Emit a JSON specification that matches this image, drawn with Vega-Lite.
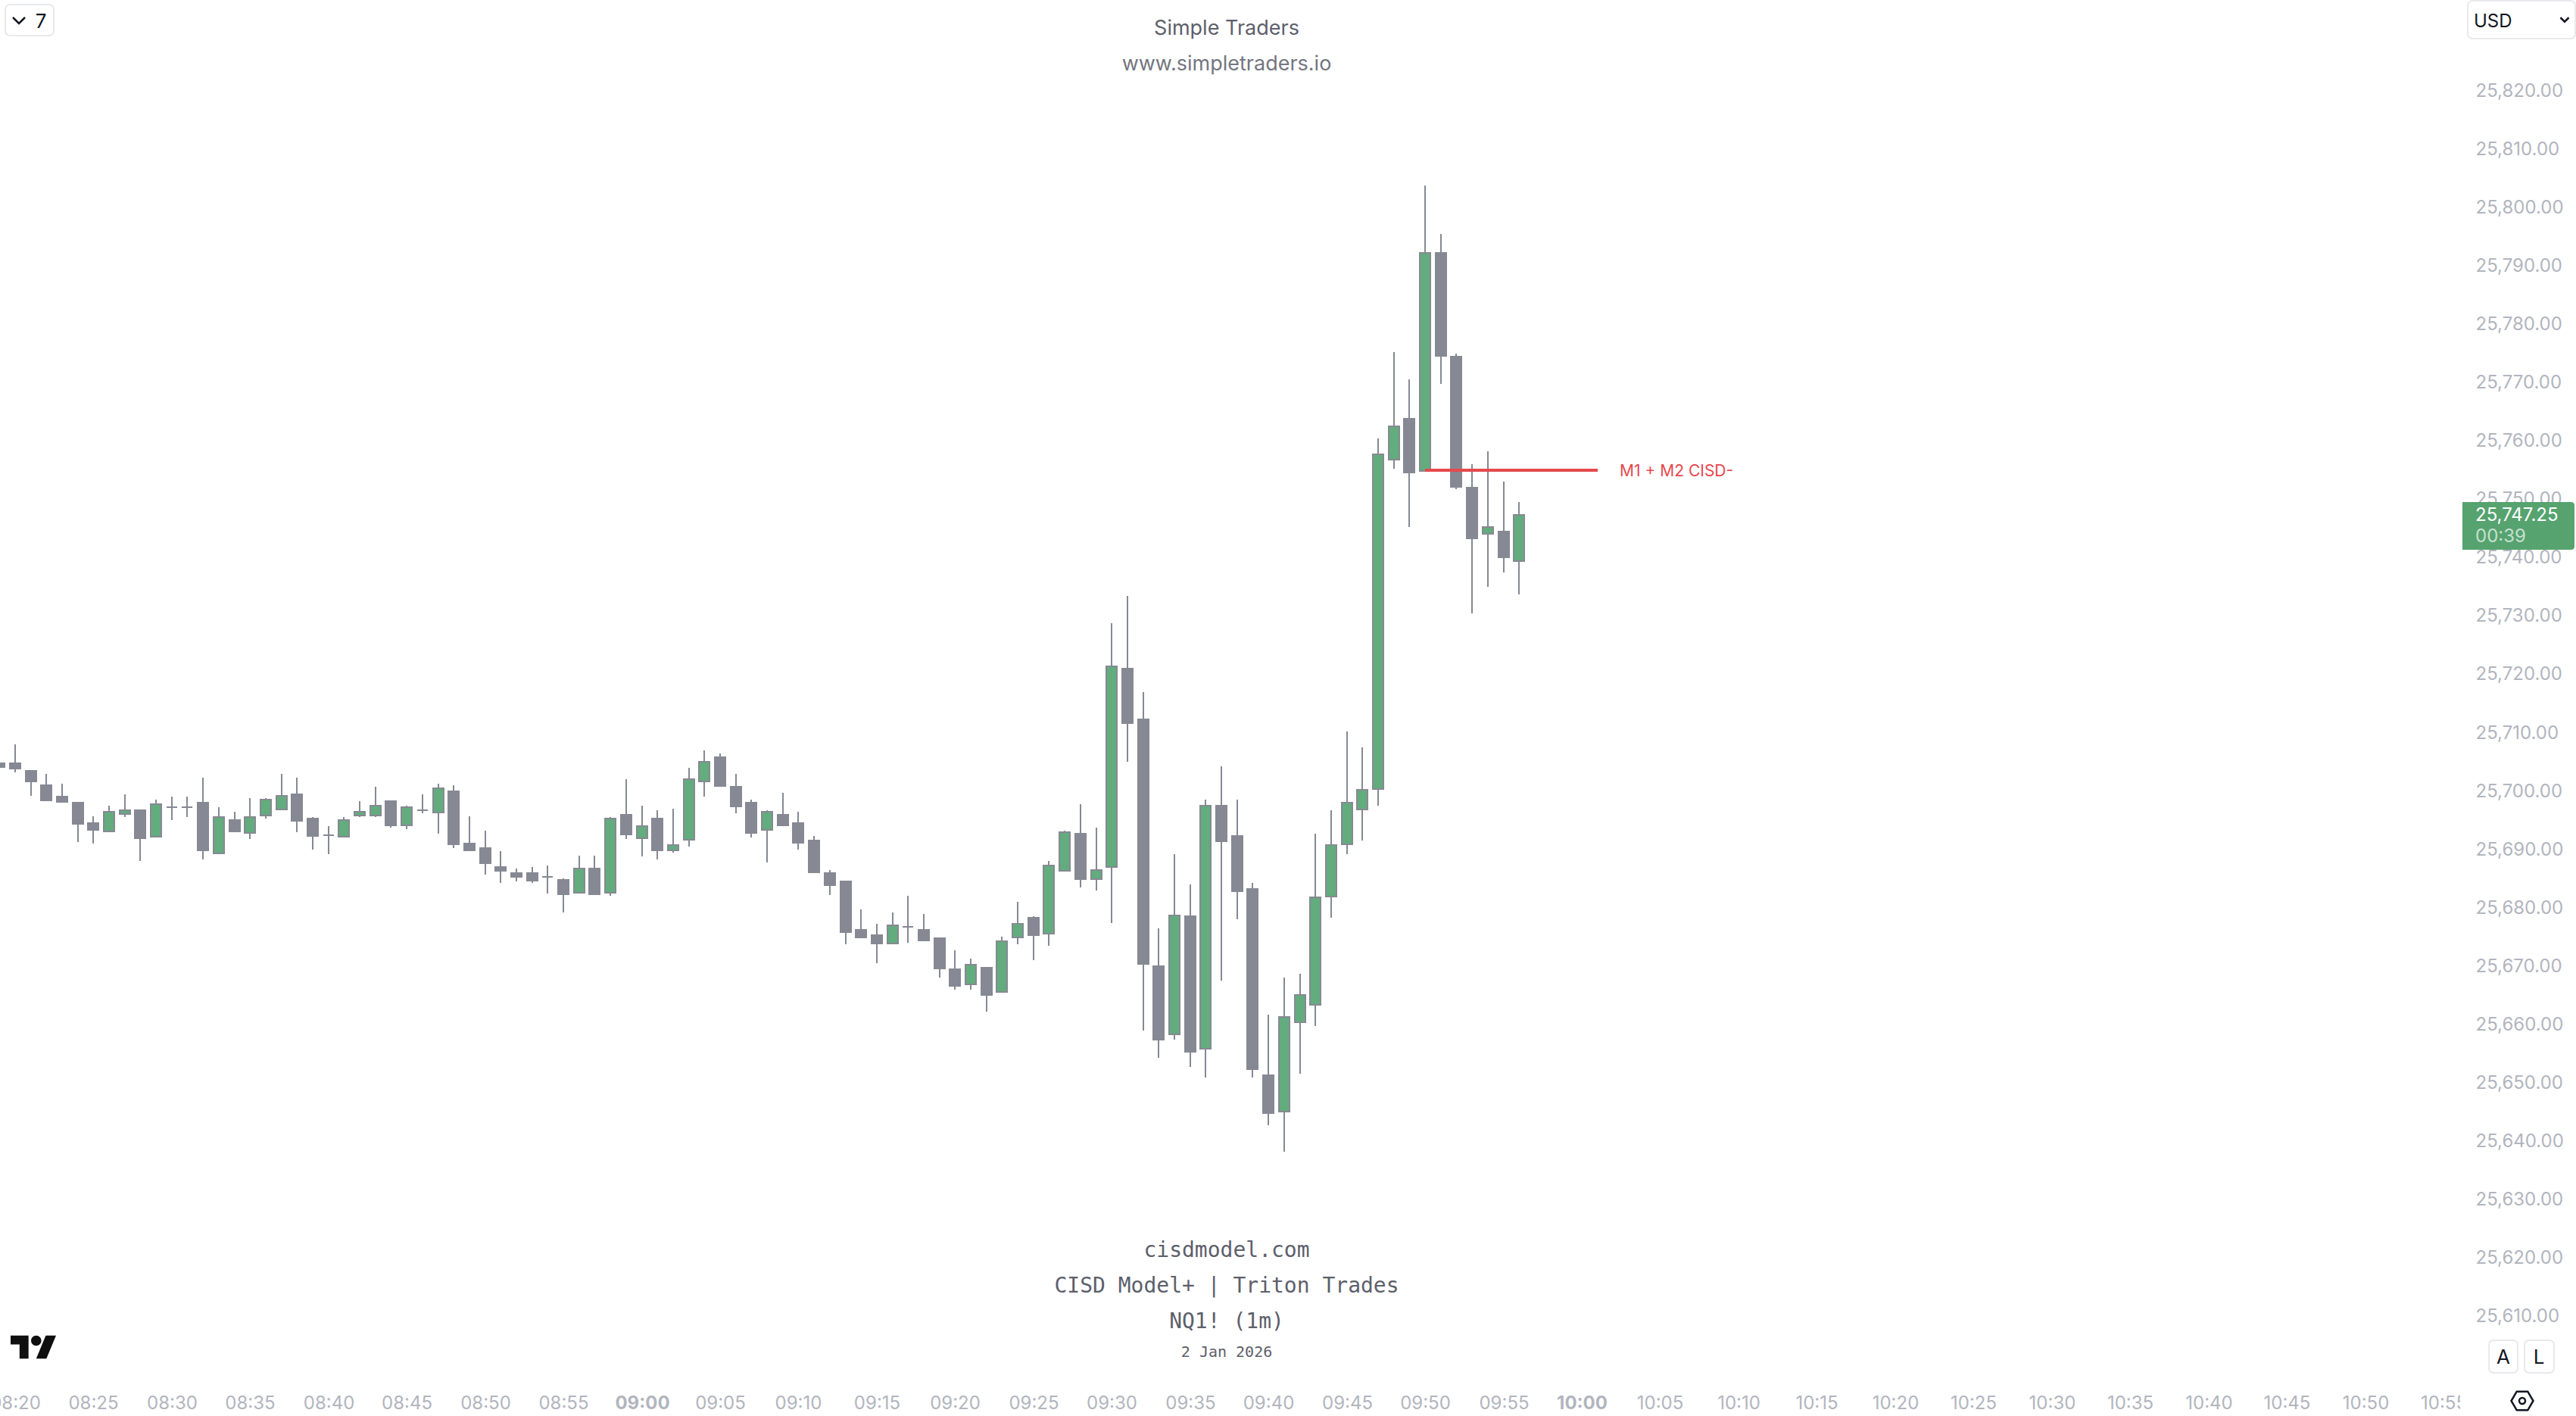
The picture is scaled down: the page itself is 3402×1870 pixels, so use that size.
{
"$schema":"https://vega.github.io/schema/vega-lite/v6.json",
"width":3402,"height":1870,"padding":0,"autosize":{"type":"none"},"background":"#ffffff",
"config":{"view":{"stroke":null},"text":{"font":"Inter"}},
"datasets":{"candles":[
{"t":"2026-01-02T08:19:00","high":25704.49,"open":25704.49,"close":25703.89,"low":25703.89},
{"t":"2026-01-02T08:20:00","high":25707.74,"open":25704.49,"close":25703.58,"low":25702.94},
{"t":"2026-01-02T08:21:00","high":25703.19,"open":25703.19,"close":25701.38,"low":25698.91},
{"t":"2026-01-02T08:22:00","high":25702.68,"open":25700.73,"close":25698.13,"low":25698.13},
{"t":"2026-01-02T08:23:00","high":25700.99,"open":25698.78,"close":25697.87,"low":25697.74},
{"t":"2026-01-02T08:24:00","high":25697.74,"open":25697.74,"close":25694.11,"low":25691.0},
{"t":"2026-01-02T08:25:00","high":25695.41,"open":25694.24,"close":25693.07,"low":25690.74},
{"t":"2026-01-02T08:26:00","high":25697.22,"open":25692.81,"close":25696.19,"low":25692.81},
{"t":"2026-01-02T08:27:00","high":25699.17,"open":25695.8,"close":25696.45,"low":25695.28},
{"t":"2026-01-02T08:28:00","high":25696.45,"open":25696.45,"close":25691.64,"low":25687.75},
{"t":"2026-01-02T08:29:00","high":25698.26,"open":25691.9,"close":25697.48,"low":25691.9},
{"t":"2026-01-02T08:30:00","high":25698.78,"open":25696.97,"close":25696.97,"low":25694.76},
{"t":"2026-01-02T08:31:00","high":25698.78,"open":25696.97,"close":25696.97,"low":25695.28},
{"t":"2026-01-02T08:32:00","high":25702.03,"open":25697.74,"close":25689.57,"low":25688.01},
{"t":"2026-01-02T08:33:00","high":25696.97,"open":25689.05,"close":25695.28,"low":25689.05},
{"t":"2026-01-02T08:34:00","high":25696.19,"open":25694.76,"close":25692.81,"low":25692.81},
{"t":"2026-01-02T08:35:00","high":25698.52,"open":25692.55,"close":25695.28,"low":25691.51},
{"t":"2026-01-02T08:36:00","high":25698.52,"open":25695.54,"close":25698.26,"low":25695.02},
{"t":"2026-01-02T08:37:00","high":25702.68,"open":25696.58,"close":25698.91,"low":25696.58},
{"t":"2026-01-02T08:38:00","high":25702.03,"open":25699.17,"close":25694.63,"low":25692.68},
{"t":"2026-01-02T08:39:00","high":25695.28,"open":25695.02,"close":25692.03,"low":25689.7},
{"t":"2026-01-02T08:40:00","high":25693.72,"open":25692.16,"close":25692.16,"low":25688.92},
{"t":"2026-01-02T08:41:00","high":25695.28,"open":25691.9,"close":25694.76,"low":25691.9},
{"t":"2026-01-02T08:42:00","high":25698.0,"open":25695.54,"close":25696.19,"low":25695.28},
{"t":"2026-01-02T08:43:00","high":25700.47,"open":25695.54,"close":25697.22,"low":25695.28},
{"t":"2026-01-02T08:44:00","high":25698.0,"open":25698.0,"close":25693.85,"low":25693.46},
{"t":"2026-01-02T08:45:00","high":25697.22,"open":25693.85,"close":25696.97,"low":25693.2},
{"t":"2026-01-02T08:46:00","high":25699.17,"open":25696.45,"close":25696.45,"low":25695.93},
{"t":"2026-01-02T08:47:00","high":25700.99,"open":25696.06,"close":25700.21,"low":25692.42},
{"t":"2026-01-02T08:48:00","high":25700.73,"open":25699.69,"close":25690.61,"low":25689.96},
{"t":"2026-01-02T08:49:00","high":25695.41,"open":25690.74,"close":25689.57,"low":25689.57},
{"t":"2026-01-02T08:50:00","high":25692.94,"open":25689.96,"close":25687.36,"low":25685.42},
{"t":"2026-01-02T08:51:00","high":25689.44,"open":25686.71,"close":25686.06,"low":25683.99},
{"t":"2026-01-02T08:52:00","high":25686.45,"open":25685.67,"close":25685.03,"low":25684.25},
{"t":"2026-01-02T08:53:00","high":25686.71,"open":25685.67,"close":25684.38,"low":25683.99},
{"t":"2026-01-02T08:54:00","high":25686.97,"open":25685.03,"close":25685.03,"low":25682.17},
{"t":"2026-01-02T08:55:00","high":25684.77,"open":25684.5,"close":25682.04,"low":25678.92},
{"t":"2026-01-02T08:56:00","high":25688.66,"open":25682.3,"close":25686.45,"low":25682.3},
{"t":"2026-01-02T08:57:00","high":25688.66,"open":25686.45,"close":25682.04,"low":25681.91},
{"t":"2026-01-02T08:58:00","high":25695.28,"open":25682.3,"close":25695.02,"low":25681.78},
{"t":"2026-01-02T08:59:00","high":25701.77,"open":25695.67,"close":25692.29,"low":25691.51},
{"t":"2026-01-02T09:00:00","high":25697.22,"open":25691.64,"close":25693.72,"low":25688.53},
{"t":"2026-01-02T09:01:00","high":25696.45,"open":25695.02,"close":25689.57,"low":25688.01},
{"t":"2026-01-02T09:02:00","high":25696.71,"open":25689.57,"close":25690.48,"low":25689.18},
{"t":"2026-01-02T09:03:00","high":25703.71,"open":25691.38,"close":25701.77,"low":25690.22},
{"t":"2026-01-02T09:04:00","high":25706.7,"open":25701.38,"close":25704.75,"low":25698.78},
{"t":"2026-01-02T09:05:00","high":25706.18,"open":25705.53,"close":25700.6,"low":25700.6},
{"t":"2026-01-02T09:06:00","high":25702.68,"open":25700.47,"close":25697.1,"low":25695.93},
{"t":"2026-01-02T09:07:00","high":25698.26,"open":25697.74,"close":25692.55,"low":25691.77},
{"t":"2026-01-02T09:08:00","high":25696.45,"open":25693.07,"close":25696.19,"low":25687.49},
{"t":"2026-01-02T09:09:00","high":25699.43,"open":25695.67,"close":25693.85,"low":25693.72},
{"t":"2026-01-02T09:10:00","high":25696.19,"open":25694.24,"close":25690.87,"low":25689.7},
{"t":"2026-01-02T09:11:00","high":25692.03,"open":25691.26,"close":25685.8,"low":25685.8},
{"t":"2026-01-02T09:12:00","high":25686.19,"open":25685.67,"close":25683.6,"low":25681.91},
{"t":"2026-01-02T09:13:00","high":25684.25,"open":25684.25,"close":25675.55,"low":25673.48},
{"t":"2026-01-02T09:14:00","high":25679.44,"open":25675.94,"close":25674.64,"low":25674.64},
{"t":"2026-01-02T09:15:00","high":25676.98,"open":25675.03,"close":25673.6,"low":25670.23},
{"t":"2026-01-02T09:16:00","high":25678.93,"open":25673.6,"close":25676.72,"low":25673.48},
{"t":"2026-01-02T09:17:00","high":25681.78,"open":25676.46,"close":25676.46,"low":25673.73},
{"t":"2026-01-02T09:18:00","high":25678.67,"open":25675.94,"close":25674.12,"low":25673.99},
{"t":"2026-01-02T09:19:00","high":25674.51,"open":25674.51,"close":25669.32,"low":25667.77},
{"t":"2026-01-02T09:20:00","high":25672.44,"open":25669.19,"close":25666.34,"low":25665.69},
{"t":"2026-01-02T09:21:00","high":25671.01,"open":25666.6,"close":25669.97,"low":25665.69},
{"t":"2026-01-02T09:22:00","high":25669.45,"open":25669.45,"close":25664.78,"low":25661.92},
{"t":"2026-01-02T09:23:00","high":25674.77,"open":25665.3,"close":25673.99,"low":25665.3},
{"t":"2026-01-02T09:24:00","high":25680.74,"open":25674.64,"close":25676.98,"low":25673.48},
{"t":"2026-01-02T09:25:00","high":25678.28,"open":25678.02,"close":25675.03,"low":25670.75},
{"t":"2026-01-02T09:26:00","high":25687.75,"open":25675.29,"close":25686.97,"low":25673.22},
{"t":"2026-01-02T09:27:00","high":25692.94,"open":25686.06,"close":25692.68,"low":25685.93},
{"t":"2026-01-02T09:28:00","high":25697.48,"open":25692.42,"close":25684.64,"low":25683.21},
{"t":"2026-01-02T09:29:00","high":25693.46,"open":25684.64,"close":25686.19,"low":25682.69},
{"t":"2026-01-02T09:30:00","high":25728.51,"open":25686.65,"close":25721.16,"low":25677.05},
{"t":"2026-01-02T09:31:00","high":25733.15,"open":25720.69,"close":25711.36,"low":25704.8},
{"t":"2026-01-02T09:32:00","high":25716.72,"open":25712.02,"close":25670.1,"low":25658.7},
{"t":"2026-01-02T09:33:00","high":25676.19,"open":25669.7,"close":25657.11,"low":25654.0},
{"t":"2026-01-02T09:34:00","high":25688.9,"open":25658.04,"close":25678.37,"low":25657.05},
{"t":"2026-01-02T09:35:00","high":25683.74,"open":25678.24,"close":25655.06,"low":25652.41},
{"t":"2026-01-02T09:36:00","high":25698.24,"open":25655.52,"close":25697.25,"low":25650.56},
{"t":"2026-01-02T09:37:00","high":25703.94,"open":25697.25,"close":25691.09,"low":25667.25},
{"t":"2026-01-02T09:38:00","high":25698.24,"open":25692.02,"close":25682.55,"low":25677.78},
{"t":"2026-01-02T09:39:00","high":25684.0,"open":25682.94,"close":25652.01,"low":25650.56},
{"t":"2026-01-02T09:40:00","high":25661.42,"open":25651.02,"close":25644.53,"low":25642.41},
{"t":"2026-01-02T09:41:00","high":25667.78,"open":25644.79,"close":25661.02,"low":25637.97},
{"t":"2026-01-02T09:42:00","high":25668.37,"open":25660.16,"close":25664.8,"low":25651.22},
{"t":"2026-01-02T09:43:00","high":25692.41,"open":25663.08,"close":25681.49,"low":25659.43},
{"t":"2026-01-02T09:44:00","high":25696.45,"open":25681.62,"close":25690.49,"low":25677.98},
{"t":"2026-01-02T09:45:00","high":25709.96,"open":25690.63,"close":25697.71,"low":25688.9},
{"t":"2026-01-02T09:46:00","high":25707.18,"open":25696.59,"close":25699.96,"low":25691.22},
{"t":"2026-01-02T09:47:00","high":25760.15,"open":25700.1,"close":25757.45,"low":25697.25},
{"t":"2026-01-02T09:48:00","high":25774.98,"open":25756.54,"close":25762.27,"low":25754.96},
{"t":"2026-01-02T09:49:00","high":25770.32,"open":25763.54,"close":25754.32,"low":25745.0},
{"t":"2026-01-02T09:50:00","high":25803.53,"open":25754.58,"close":25791.98,"low":25754.58},
{"t":"2026-01-02T09:51:00","high":25795.21,"open":25791.98,"close":25774.34,"low":25769.52},
{"t":"2026-01-02T09:52:00","high":25774.71,"open":25774.18,"close":25751.88,"low":25751.46},
{"t":"2026-01-02T09:53:00","high":25755.75,"open":25751.72,"close":25743.04,"low":25730.22},
{"t":"2026-01-02T09:54:00","high":25757.97,"open":25743.83,"close":25745.0,"low":25734.72},
{"t":"2026-01-02T09:55:00","high":25752.78,"open":25744.2,"close":25739.81,"low":25737.21},
{"t":"2026-01-02T09:56:00","high":25749.29,"open":25739.17,"close":25747.0,"low":25733.45}
]},
"layer":[
{"data":{"values":[{"t":"2026-01-02T10:56:04","t2":"2026-01-02T11:03:27","p":25598.46,"p2":25592.7}]},
 "mark":{"type":"rect","fill":"#ffffff"},
 "encoding":{
  "x":{"field":"t","type":"temporal","title":null,
   "scale":{"domain":[{"year":2026,"month":1,"date":2,"hours":8,"minutes":19,"seconds":2,"milliseconds":300},{"year":2026,"month":1,"date":2,"hours":11,"minutes":3,"seconds":27,"milliseconds":600}],"nice":false,"padding":0,"round":true},
   "axis":{"orient":"bottom","offset":-17,"domain":false,"ticks":false,"grid":false,"title":null,"format":"%H:%M",
    "values":[{"year":2026,"month":1,"date":2,"hours":8,"minutes":20},{"year":2026,"month":1,"date":2,"hours":8,"minutes":25},{"year":2026,"month":1,"date":2,"hours":8,"minutes":30},{"year":2026,"month":1,"date":2,"hours":8,"minutes":35},{"year":2026,"month":1,"date":2,"hours":8,"minutes":40},{"year":2026,"month":1,"date":2,"hours":8,"minutes":45},{"year":2026,"month":1,"date":2,"hours":8,"minutes":50},{"year":2026,"month":1,"date":2,"hours":8,"minutes":55},
    {"year":2026,"month":1,"date":2,"hours":9,"minutes":0},{"year":2026,"month":1,"date":2,"hours":9,"minutes":5},{"year":2026,"month":1,"date":2,"hours":9,"minutes":10},{"year":2026,"month":1,"date":2,"hours":9,"minutes":15},{"year":2026,"month":1,"date":2,"hours":9,"minutes":20},{"year":2026,"month":1,"date":2,"hours":9,"minutes":25},{"year":2026,"month":1,"date":2,"hours":9,"minutes":30},{"year":2026,"month":1,"date":2,"hours":9,"minutes":35},{"year":2026,"month":1,"date":2,"hours":9,"minutes":40},{"year":2026,"month":1,"date":2,"hours":9,"minutes":45},{"year":2026,"month":1,"date":2,"hours":9,"minutes":50},{"year":2026,"month":1,"date":2,"hours":9,"minutes":55},
    {"year":2026,"month":1,"date":2,"hours":10,"minutes":0},{"year":2026,"month":1,"date":2,"hours":10,"minutes":5},{"year":2026,"month":1,"date":2,"hours":10,"minutes":10},{"year":2026,"month":1,"date":2,"hours":10,"minutes":15},{"year":2026,"month":1,"date":2,"hours":10,"minutes":20},{"year":2026,"month":1,"date":2,"hours":10,"minutes":25},{"year":2026,"month":1,"date":2,"hours":10,"minutes":30},{"year":2026,"month":1,"date":2,"hours":10,"minutes":35},{"year":2026,"month":1,"date":2,"hours":10,"minutes":40},{"year":2026,"month":1,"date":2,"hours":10,"minutes":45},{"year":2026,"month":1,"date":2,"hours":10,"minutes":50},{"year":2026,"month":1,"date":2,"hours":10,"minutes":55}],
    "labelPadding":0,"labelBaseline":"middle","labelFont":"Inter","labelFontSize":24,"labelColor":"#b2b5be","labelOverlap":false,"labelFlush":false,"labelBound":false,"labelFontWeight":{"condition":{"test":"minutes(datum.value)==0","value":"bold"},"value":"normal"}}},
  "x2":{"field":"t2"},
  "y":{"field":"p","type":"quantitative","title":null,
   "scale":{"domain":[25592.61,25835.31],"nice":false,"zero":false,"round":true},
   "axis":{"orient":"right","offset":-133,"domain":false,"ticks":false,"grid":false,"title":null,"format":",.2f","values":[25610,25620,25630,25640,25650,25660,25670,25680,25690,25700,25710,25720,25730,25740,25750,25760,25770,25780,25790,25800,25810,25820],"labelPadding":0,"labelOffset":2,"labelAlign":"left","labelBaseline":"middle","labelFont":"Inter","labelFontSize":24,"labelColor":"#b2b5be","labelOverlap":false,"labelBound":false,"labelFlush":false}},
  "y2":{"field":"p2"}}},
{"data":{"name":"candles"},"mark":{"type":"rule","color":"#868993","strokeWidth":2},
 "encoding":{"x":{"field":"t","type":"temporal","title":null},"y":{"field":"low","type":"quantitative","title":null},"y2":{"field":"high"}}},
{"data":{"name":"candles"},"mark":{"type":"bar","size":14,"stroke":"#868993","strokeWidth":2},
 "encoding":{"x":{"field":"t","type":"temporal","title":null},"y":{"field":"open","type":"quantitative","title":null},"y2":{"field":"close"},
  "fill":{"condition":{"test":"datum.close>datum.open","value":"#63ac7d"},"value":"#868993"}}},
{"data":{"values":[{"t":"2026-01-02T09:50:00","t2":"2026-01-02T10:01:00","p":25754.72}]},"mark":{"type":"rule","color":"#e5484d","strokeWidth":4},
 "encoding":{"x":{"field":"t","type":"temporal","title":null},"x2":{"field":"t2"},"y":{"field":"p","type":"quantitative","title":null}}},
{"data":{"values":[{"t":"2026-01-02T10:02:24","p":25754.42,"label":"M1 + M2 CISD-"}]},"mark":{"type":"text","align":"left","baseline":"middle","font":"Inter","fontSize":21,"color":"#e5484d"},
 "encoding":{"x":{"field":"t","type":"temporal","title":null},"y":{"field":"p","type":"quantitative","title":null},"text":{"field":"label"}}},
{"data":{"values":[{"t":"2026-01-02T10:56:13","t2":"2026-01-02T11:03:22","p":25749.27,"p2":25741.09}]},"mark":{"type":"rect","fill":"#56a36f","cornerRadiusTopRight":4,"cornerRadiusBottomRight":4},
 "encoding":{"x":{"field":"t","type":"temporal","title":null},"x2":{"field":"t2"},"y":{"field":"p","type":"quantitative","title":null},"y2":{"field":"p2"}}},
{"data":{"values":[{"t":"2026-01-02T10:57:02","p":25746.91,"label":"25,747.25"}]},"mark":{"type":"text","align":"left","baseline":"middle","font":"Inter","fontSize":24,"color":"#ffffff"},
 "encoding":{"x":{"field":"t","type":"temporal","title":null},"y":{"field":"p","type":"quantitative","title":null},"text":{"field":"label"}}},
{"data":{"values":[{"t":"2026-01-02T10:57:02","p":25743.28,"label":"00:39"}]},"mark":{"type":"text","align":"left","baseline":"middle","font":"Inter","fontSize":24,"color":"#c6e0cf"},
 "encoding":{"x":{"field":"t","type":"temporal","title":null},"y":{"field":"p","type":"quantitative","title":null},"text":{"field":"label"}}},
{"data":{"values":[{"t":"2026-01-02T09:37:20","p":25830.4,"label":"Simple Traders"}]},"mark":{"type":"text","align":"center","baseline":"middle","font":"Inter","fontSize":27,"color":"#5d606b"},
 "encoding":{"x":{"field":"t","type":"temporal","title":null},"y":{"field":"p","type":"quantitative","title":null},"text":{"field":"label"}}},
{"data":{"values":[{"t":"2026-01-02T09:37:20","p":25824.3,"label":"www.simpletraders.io"}]},"mark":{"type":"text","align":"center","baseline":"middle","font":"Inter","fontSize":27,"color":"#73767f"},
 "encoding":{"x":{"field":"t","type":"temporal","title":null},"y":{"field":"p","type":"quantitative","title":null},"text":{"field":"label"}}},
{"data":{"values":[{"t":"2026-01-02T09:37:20","p":25620.87,"label":"cisdmodel.com"},{"t":"2026-01-02T09:37:20","p":25614.85,"label":"CISD Model+ | Triton Trades"},{"t":"2026-01-02T09:37:20","p":25608.75,"label":"NQ1! (1m)"}]},"mark":{"type":"text","align":"center","baseline":"middle","font":"DejaVu Sans Mono","fontSize":28,"color":"#5d606b"},
 "encoding":{"x":{"field":"t","type":"temporal","title":null},"y":{"field":"p","type":"quantitative","title":null},"text":{"field":"label"}}},
{"data":{"values":[{"t":"2026-01-02T09:37:20","p":25603.55,"label":"2 Jan 2026"}]},"mark":{"type":"text","align":"center","baseline":"middle","font":"DejaVu Sans Mono","fontSize":20,"color":"#5d606b"},
 "encoding":{"x":{"field":"t","type":"temporal","title":null},"y":{"field":"p","type":"quantitative","title":null},"text":{"field":"label"}}},
{"data":{"values":[{"t":"2026-01-02T08:19:23","t2":"2026-01-02T08:22:28","p":25834.54,"p2":25829.21},{"t":"2026-01-02T10:56:33","t2":"2026-01-02T11:03:25","p":25835.18,"p2":25828.7},{"t":"2026-01-02T10:57:55","t2":"2026-01-02T10:59:45","p":25605.59,"p2":25600.01},{"t":"2026-01-02T11:00:11","t2":"2026-01-02T11:02:04","p":25605.59,"p2":25600.01}]},"mark":{"type":"rect","fill":"#ffffff","stroke":"#e8e9ec","strokeWidth":2,"cornerRadius":6},
 "encoding":{"x":{"field":"t","type":"temporal","title":null},"x2":{"field":"t2"},"y":{"field":"p","type":"quantitative","title":null},"y2":{"field":"p2"}}},
{"data":{"values":[{"t":"2026-01-02T08:21:39","p":25831.6,"label":"7"},{"t":"2026-01-02T10:58:50","p":25602.6,"label":"A"},{"t":"2026-01-02T11:01:06","p":25602.6,"label":"L"}]},"mark":{"type":"text","align":"center","baseline":"middle","font":"Inter","fontSize":26,"color":"#131722"},
 "encoding":{"x":{"field":"t","type":"temporal","title":null},"y":{"field":"p","type":"quantitative","title":null},"text":{"field":"label"}}},
{"data":{"values":[{"t":"2026-01-02T10:56:56","p":25831.6,"label":"USD"}]},"mark":{"type":"text","align":"left","baseline":"middle","font":"Inter","fontSize":24,"color":"#131722"},
 "encoding":{"x":{"field":"t","type":"temporal","title":null},"y":{"field":"p","type":"quantitative","title":null},"text":{"field":"label"}}},
{"data":{"values":[{"t":"2026-01-02T08:20:15","p":25831.81}]},"mark":{"type":"point","shape":"M-1 -0.5L0 0.5L1 -0.5","size":256,"filled":false,"stroke":"#131722","strokeWidth":2.5,"opacity":1},
 "encoding":{"x":{"field":"t","type":"temporal","title":null},"y":{"field":"p","type":"quantitative","title":null}}},
{"data":{"values":[{"t":"2026-01-02T11:02:44","p":25831.94}]},"mark":{"type":"point","shape":"M-1 -0.5L0 0.5L1 -0.5","size":121,"filled":false,"stroke":"#131722","strokeWidth":2.5,"opacity":1},
 "encoding":{"x":{"field":"t","type":"temporal","title":null},"y":{"field":"p","type":"quantitative","title":null}}},
{"data":{"values":[{"t":"2026-01-02T11:00:02","p":25595.21}]},"mark":{"type":"point","shape":"M-1 0L-0.5 -0.85L0.5 -0.85L1 0L0.5 0.85L-0.5 0.85Z","size":841,"filled":false,"stroke":"#131722","strokeWidth":2.5,"opacity":1},
 "encoding":{"x":{"field":"t","type":"temporal","title":null},"y":{"field":"p","type":"quantitative","title":null}}},
{"data":{"values":[{"t":"2026-01-02T11:00:02","p":25595.21}]},"mark":{"type":"point","shape":"circle","size":64,"filled":false,"stroke":"#131722","strokeWidth":2.5,"opacity":1},
 "encoding":{"x":{"field":"t","type":"temporal","title":null},"y":{"field":"p","type":"quantitative","title":null}}},
{"data":{"values":[{"t":"2026-01-02T08:21:10","p":25604.43}]},"mark":{"type":"point","shape":"M-0.211 0.507L-0.606 0.507L-0.606 -0.113L-1 -0.113L-1 -0.507L-0.211 -0.507ZM0.577 0.507L0.127 0.507L0.549 -0.507L1 -0.507ZM-0.098 -0.282A0.225 0.225 0 1 0 0.352 -0.282A0.225 0.225 0 1 0 -0.098 -0.282Z","size":3600,"filled":true,"fill":"#0f0f0f","stroke":null,"opacity":1},
 "encoding":{"x":{"field":"t","type":"temporal","title":null},"y":{"field":"p","type":"quantitative","title":null}}}
]}
